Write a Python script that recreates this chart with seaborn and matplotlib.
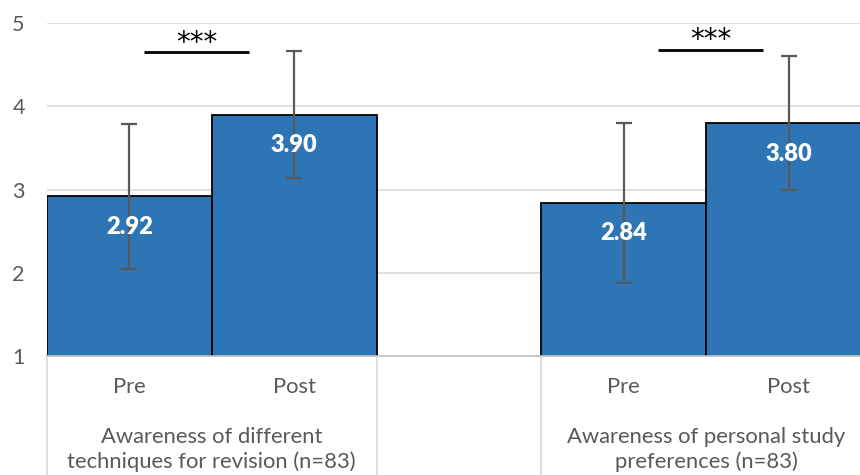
import pandas as pd
import numpy as np
import seaborn as sns
import matplotlib.pyplot as plt
import matplotlib.transforms as mtransforms

# chart data
measures = ['Awareness of different\ntechniques for revision (n=83)',
            'Awareness of personal study\npreferences (n=83)']
times = ['Pre', 'Post']
pre_means = [2.92, 2.84]
post_means = [3.90, 3.80]
pre_sd = [0.87, 0.96]
post_sd = [0.76, 0.81]
sig_labels = ['***', '***']

blue = '#2E75B6'
grey_txt = '#595959'

sns.set_theme(style='white')
plt.rcParams['font.family'] = ['Lato', 'DejaVu Sans']

df = pd.DataFrame({
    'measure': measures * 2,
    'time': ['Pre'] * 2 + ['Post'] * 2,
    'mean': pre_means + post_means,
    'sd': pre_sd + post_sd,
})

fig = plt.figure(figsize=(8.6, 4.75), dpi=100)
ax = fig.add_axes([47 / 860, 119 / 475, 813 / 860, 333.3 / 475])

bar_w = 2 / 3
sns.barplot(data=df, x='measure', y='mean', hue='time', hue_order=times,
            order=measures, palette=[blue, blue], saturation=1, width=bar_w,
            edgecolor='black', linewidth=1.3, errorbar=None, legend=False,
            ax=ax)

# error bars and value labels, taken from the drawn bars
sds = {'Pre': pre_sd, 'Post': post_sd}
for t, cont in zip(times, ax.containers):
    for i, bar in enumerate(cont):
        xc = bar.get_x() + bar.get_width() / 2
        h = bar.get_height()
        ax.errorbar(xc, h, yerr=sds[t][i], fmt='none', ecolor='#595959',
                    elinewidth=1.6, capsize=6, capthick=1.6, zorder=4)
        ax.annotate(f'{h:.2f}', (xc, h), xytext=(0, -22), textcoords='offset points',
                    ha='center', va='center', color='white', fontsize=17,
                    fontweight='heavy', zorder=5)
        ax.text(xc, -0.093, t, transform=ax.get_xaxis_transform(),
                ha='center', va='center', color=grey_txt, fontsize=15.8)

# significance bars
sig_y = [4.65, 4.68]
sig_x = [(-0.137, 0.075), (-0.097, 0.115)]
for i, lab in enumerate(sig_labels):
    x0, x1 = sig_x[i][0] + i, sig_x[i][1] + i
    ax.plot([x0, x1], [sig_y[i], sig_y[i]], color='black', lw=2, solid_capstyle='butt', zorder=5)
    ax.annotate(lab, ((x0 + x1) / 2, sig_y[i]), xytext=(0, 7), textcoords='offset points',
                ha='center', va='center', fontsize=20, color='black',
                family=['DejaVu Sans'], zorder=5)

# multi-level category axis
trans = ax.get_xaxis_transform()
for i, m in enumerate(measures):
    ax.text(i, -0.281, m, transform=trans, ha='center', va='center',
            color=grey_txt, fontsize=15.8, linespacing=1.28)
    for xe in (i - bar_w / 2, i + bar_w / 2):
        ax.plot([xe, xe], [0, -0.36], transform=trans, color='#D9D9D9',
                lw=1.2, clip_on=False)

ax.set_xlim(-1 / 3, 1.311)
ax.set_ylim(1, 5.005)
ax.set_yticks([1, 2, 3, 4, 5])
ax.set_xticks([])
ax.set_xlabel('')
ax.set_ylabel('')
ax.yaxis.grid(True, color='#D9D9D9', lw=1.2)
ax.set_axisbelow(True)
ax.tick_params(axis='y', length=0, pad=16, labelsize=15.5, labelcolor=grey_txt)
for s in ['top', 'left', 'right']:
    ax.spines[s].set_visible(False)
ax.spines['bottom'].set_color('#BFBFBF')
ax.spines['bottom'].set_linewidth(1.2)

fig.savefig('out.png', dpi=100)
